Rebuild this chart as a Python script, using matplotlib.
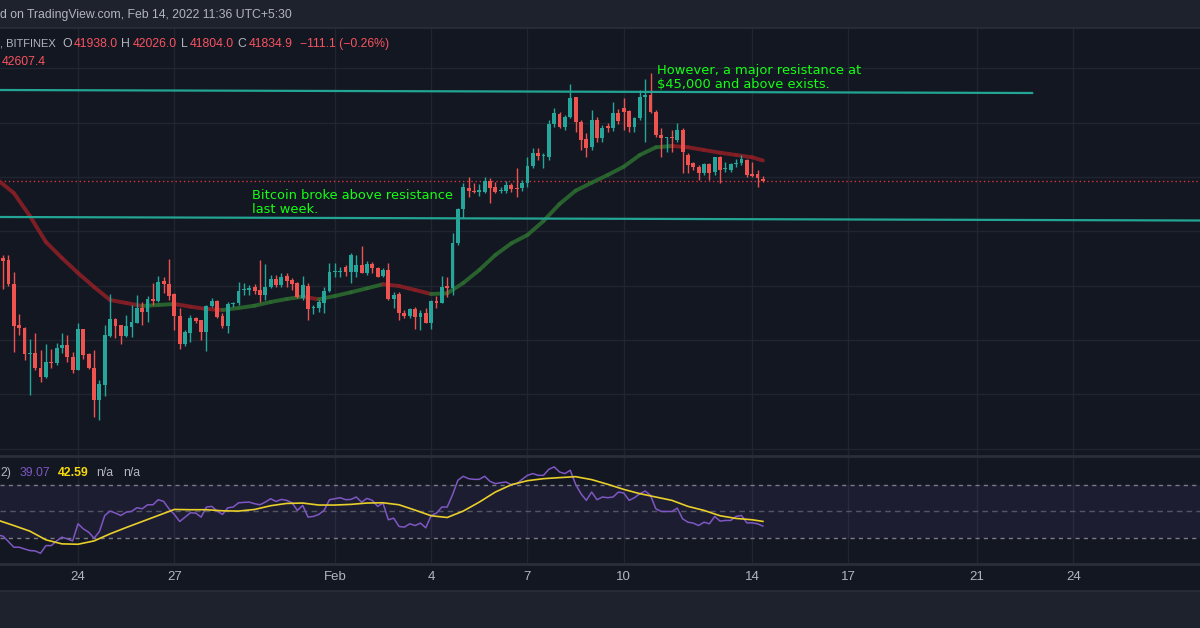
import numpy as np
import matplotlib
matplotlib.use("Agg")
import matplotlib.pyplot as plt
from matplotlib.collections import LineCollection
from matplotlib.patches import Rectangle
from matplotlib.transforms import blended_transform_factory

# BTCUSD Bitfinex, 4h candles (candle 16 = Jan 24 00:00)
opens = [39189, 39005, 38943, 38047, 36549, 36426, 35480, 35505, 34977, 34645, 35198, 35137,
         35689, 35812, 35382, 34891, 36389, 35480, 34977, 33786, 34338, 36143, 36770, 36549,
         36143, 36490, 36635, 37163, 37040, 37494, 37433, 38170, 38059, 37678, 36892, 35849,
         36266, 36794, 36733, 36303, 37249, 37445, 36880, 36512, 37310, 37347, 37838, 37838,
         37961, 37838, 37654, 37961, 38243, 38022, 38354, 38206, 38084, 37531, 37985, 37163,
         37163, 37347, 37813, 38489, 38513, 38673, 38513, 38489, 38759, 38452, 38784, 38636,
         38354, 38575, 37494, 37678, 37003, 36880, 37126, 36856, 37003, 36635, 37445, 37371,
         37984, 37900, 39556, 40809, 41582, 41496, 41435, 41460, 41865, 41619, 41496, 41496,
         41705, 41582, 41582, 41790, 42404, 42895, 42760, 42748, 43951, 44320, 43853, 44221,
         44934, 44037, 43386, 43100, 44099, 43423, 43878, 43792, 44344, 44529, 44443, 43854,
         44161, 44934, 45020, 44406, 43547, 43424, 43461, 43363, 43731, 42810, 42503, 42380,
         42135, 42479, 42196, 42749, 42282, 42258, 42479, 42528, 42626, 42110, 42110, 41938]
highs = [39250, 39127, 39127, 38513, 36954, 36463, 36033, 36266, 35628, 35849, 35652, 35870,
         36242, 36180, 35566, 36610, 36389, 35505, 35628, 34522, 36549, 37678, 36794, 36549,
         36917, 37285, 37654, 37408, 37617, 38084, 38354, 38329, 38980, 37715, 37163, 36350,
         36917, 36856, 36733, 37285, 37530, 37470, 36980, 37408, 37408, 38145, 38084, 38022,
         38050, 38943, 38796, 38400, 38391, 38452, 38477, 38268, 38145, 38354, 38084, 37285,
         37470, 37961, 38820, 38820, 38698, 38759, 39189, 39127, 39459, 38900, 38882, 38700,
         38650, 38820, 37777, 37777, 37101, 37163, 37224, 37101, 37163, 37470, 37617, 38354,
         38320, 39925, 40850, 41791, 41987, 41791, 41742, 42012, 41950, 41828, 41619, 41865,
         41791, 42319, 41889, 42748, 43055, 43055, 42870, 44099, 44528, 44400, 44283, 45425,
         44958, 44099, 43607, 44467, 44221, 43900, 44000, 44774, 44500, 44898, 44468, 44222,
         45205, 45600, 45818, 44468, 43792, 43485, 43731, 43977, 43792, 42871, 42565, 42442,
         42503, 42503, 42749, 42773, 42565, 42528, 42651, 42810, 42651, 42565, 42258, 42026]
lows = [38950, 37863, 38000, 35566, 36180, 35259, 33970, 34900, 34461, 34584, 34952, 35075,
        35505, 35198, 34768, 34891, 35284, 34915, 33172, 33049, 33933, 36119, 36057, 35849,
        36119, 36094, 36610, 36549, 36671, 37285, 37408, 37715, 37470, 36364, 35652, 35760,
        35935, 36610, 35996, 35603, 37220, 36794, 36426, 36266, 37220, 37285, 37654, 37654,
        37700, 37408, 37470, 37900, 37961, 37961, 37961, 37838, 37531, 37470, 36733, 36954,
        37040, 36978, 37777, 38329, 38305, 38354, 38084, 38329, 38452, 38400, 38452, 38300,
        38300, 37470, 37163, 36733, 36794, 36800, 36389, 36364, 36610, 36389, 37163, 37347,
        37590, 37650, 39495, 40477, 41275, 41398, 41300, 41398, 41030, 41398, 41398, 41398,
        41460, 41250, 41496, 41650, 42318, 42625, 42318, 42625, 43853, 43792, 43730, 44160,
        43669, 42993, 42748, 43000, 43300, 43300, 43669, 43700, 43950, 43731, 43670, 43670,
        44100, 43301, 44350, 43485, 42749, 42933, 42933, 43301, 42135, 42135, 42258, 41889,
        42073, 41889, 42073, 41791, 42196, 42200, 42356, 42442, 42012, 41987, 41619, 41804]
closes = [39005, 38919, 38047, 36512, 36426, 35480, 35529, 34952, 34645, 35198, 35137, 35714,
          35812, 35382, 34891, 36389, 35443, 34952, 33786, 34375, 36180, 36770, 36512, 36143,
          36512, 36671, 37163, 37040, 37494, 37445, 38145, 38047, 37617, 36880, 35849, 36303,
          36794, 36696, 36303, 37249, 37433, 36856, 36512, 37310, 37347, 37813, 37863, 37900,
          37813, 37654, 37961, 38243, 38022, 38329, 38182, 38047, 37592, 38035, 37126, 37224,
          37408, 37813, 38489, 38550, 38550, 38513, 39127, 38759, 38452, 38796, 38636, 38329,
          38575, 37494, 37654, 36978, 36880, 37126, 36856, 37003, 36635, 37433, 37371, 37961,
          37900, 39556, 40809, 41619, 41496, 41435, 41521, 41865, 41582, 41460, 41521, 41705,
          41545, 41558, 41791, 42420, 42895, 42772, 42790, 43951, 44344, 43853, 44221, 44897,
          44037, 43362, 43055, 44099, 43423, 43792, 43792, 44344, 44050, 44406, 43854, 44161,
          44934, 45020, 44406, 43547, 43424, 43461, 43424, 43731, 42933, 42442, 42356, 42135,
          42479, 42159, 42724, 42258, 42319, 42479, 42528, 42651, 42073, 42036, 41950, 41834.9]

# moving average read every 3rd candle (last = 42607.4)
ma_values = [41890, 41411, 40564, 39606, 39017, 38464, 37949, 37470, 37360, 37249, 37286, 37323,
             37225, 37138, 37102, 37175, 37260, 37396, 37507, 37592, 37496, 37617, 37754, 37901,
             38048, 37986, 37838, 37691, 37717, 38096, 38575, 39127, 39558, 39864, 40379, 41006,
             41496, 41790, 42074, 42380, 42810, 43094, 43142, 43094, 42994, 42895, 42810, 42725,
             42607.4]

# RSI per candle, and its smoothing line every 3rd candle
rsi = [32.5, 31.5, 27.5, 23.3, 23.3, 22, 20.8, 20.5, 18.8, 24.5, 24.5, 28, 30.8, 29.5, 28, 40.8,
       37, 34.5, 30, 35, 47, 50.3, 48.8, 47, 49.5, 50, 52.8, 52, 55, 55, 58.8, 57.5,
       52, 47.8, 42.5, 45.8, 49, 48.8, 45.8, 53.3, 53.8, 50.3, 47.8, 52.8, 53.3, 56.5, 56.8, 57,
       55.8, 55, 57, 59.5, 57.5, 59, 58.3, 56.5, 50.8, 54.5, 45.8, 46.3, 47.8, 50.8, 58.8, 59.5,
       60.3, 58.8, 59, 60.8, 57, 59.8, 58.3, 53.8, 56.3, 43.8, 45, 38.8, 38.3, 40.8, 39.5, 41.3,
       37.8, 47, 48.8, 53.3, 53.3, 62.5, 73.3, 76.3, 74.5, 74, 74, 76.3, 72.5, 70.8, 71.5, 72,
       70, 70.8, 74, 77, 78.3, 77, 77, 81.5, 83.3, 79.5, 78.3, 80.8, 70.3, 63.3, 58.3, 64.5,
       58.8, 60.8, 60.3, 60.8, 64.5, 63.8, 58.3, 60.3, 63.3, 65.3, 62, 52, 50, 50, 50, 52.5,
       44.5, 42, 41.3, 39.5, 42, 40.8, 46.3, 42.8, 43.3, 43.3, 46.3, 47, 41.5, 41.5, 40.8, 39.07]
rsi_ma = [43.5, 39.5, 35.3, 28.8, 25.8, 25.5, 28, 33.3, 38, 42.5, 47, 51.5, 51.3, 51.3, 50.5, 50.3,
          51.5, 54.3, 56, 56.3, 54.8, 54.8, 55.3, 56.3, 56.5, 55, 51, 46.8, 45.5, 50.3, 57, 64.5,
          70, 73, 74.5, 75.3, 76, 73.8, 70.3, 66.5, 63.3, 60.8, 58.3, 53.8, 50.8, 46.8, 44.8, 43.8,
          42.59]

# drawn trend lines (day, price)
upper_line_x = [-2.43, 29.72]
upper_line_y = [45204, 45094]
lower_line_x = [-2.43, 34.95]
lower_line_y = [40527, 40398]

tick_days = [0, 3, 8, 11, 14, 17, 21, 24, 28, 31]
tick_labels = ["24", "27", "Feb", "4", "7", "10", "14", "17", "21", "24"]

BG = "#131722"
PANEL = "#1e222d"
GRID = "#21252f"
TXT = "#b2b5be"
UP = "#26a69a"
DOWN = "#ef5350"

n = len(closes)
t = (np.arange(1, n + 1) - 16) / 6.0
ma_t = np.append(t[0:n:3], t[-1])

fig = plt.figure(figsize=(12, 6.28), dpi=100, facecolor=BG)
H = 628.0
ax = fig.add_axes([0, (H - 455) / H, 1, (455 - 28) / H])
rax = fig.add_axes([0, (H - 563) / H, 1, (563 - 457) / H])
xlim = (-2.43, 34.95)

for a in (ax, rax):
    a.set_facecolor(BG)
    a.set_xlim(*xlim)
    for s in a.spines.values():
        s.set_visible(False)
    a.set_xticks([])
    a.set_yticks([])
    for d in tick_days:
        a.axvline(d, color=GRID, lw=1, zorder=0)

ax.set_ylim(31761, 47488)
for p in range(32000, 47000, 2000):
    ax.axhline(p, color=GRID, lw=1, zorder=0)

# candles
o = np.array(opens); c = np.array(closes); hi = np.array(highs); lo = np.array(lows)
cols = np.where(c >= o, UP, DOWN)
ax.vlines(t, lo, hi, colors=cols, lw=1, zorder=3)
body = np.maximum(np.abs(c - o), 35)
ax.bar(t, body, bottom=np.minimum(o, c), width=0.12, color=cols, zorder=4, linewidth=0)

# moving average, coloured by direction
pts = np.column_stack([ma_t, ma_values])
segs = np.stack([pts[:-1], pts[1:]], axis=1)
seg_cols = ["#2b6a2f" if b >= a else "#8a1f26" for a, b in zip(ma_values[:-1], ma_values[1:])]
ax.add_collection(LineCollection(segs, colors=seg_cols, linewidths=2.8, capstyle="round",
                                 joinstyle="round", alpha=0.9, zorder=2))

ax.plot(upper_line_x, upper_line_y, color="#22a594", lw=1.6, zorder=5)
ax.plot(lower_line_x, lower_line_y, color="#22a594", lw=1.6, zorder=5)
ax.axhline(closes[-1], color="#d8343e", lw=1, ls=(0, (1, 2)), zorder=1)

green_txt = "#14ff14"
ax.text(-2.43 + 252 / 32.1, 40560, "Bitcoin broke above resistance\nlast week.", color=green_txt,
        fontsize=9.4, family="DejaVu Sans", va="bottom", ha="left", linespacing=1.12, zorder=6)
ax.text(-2.43 + 657 / 32.1, 45150, "However, a major resistance at\n$45,000 and above exists.",
        color=green_txt, fontsize=9.4, family="DejaVu Sans", va="bottom", ha="left",
        linespacing=1.12, zorder=6)

# RSI panel
rax.set_ylim(11.5, 90.7)
rax.axhspan(30, 70, color="#7e57c2", alpha=0.1, lw=0)
rax.axhline(70, color="#787b86", lw=1, ls=(0, (3, 3)))
rax.axhline(30, color="#787b86", lw=1, ls=(0, (3, 3)))
rax.axhline(50, color="#787b86", lw=1, ls=(0, (4, 3)), alpha=0.6)
rax.plot(t, rsi, color="#7e57c2", lw=1.1, zorder=3)
rax.plot(ma_t, rsi_ma, color="#e8cf2a", lw=1.2, zorder=4)

# frame pieces
def fy(y):
    return 1 - y / H

fig.patches.append(Rectangle((0, fy(27)), 1, 27 / H, transform=fig.transFigure, color=PANEL, zorder=-1))
fig.patches.append(Rectangle((0, 0), 1, fy(591), transform=fig.transFigure, color=PANEL, zorder=-1))
for y, lw in ((27.5, 1.2), (456, 2.0), (563.5, 2.0), (591, 1.2)):
    fig.add_artist(plt.Line2D([0, 1], [fy(y), fy(y)], color="#2a2e39", lw=lw, transform=fig.transFigure))

trans = blended_transform_factory(rax.transData, fig.transFigure)
for d, lab in zip(tick_days, tick_labels):
    fig.text(d, fy(577), lab, transform=trans, color=TXT, fontsize=9.5, ha="center", va="center",
             family="Liberation Sans")

def ftext(x, y, s, color, size=8.8, **kw):
    fig.text(x / 1200, fy(y), s, color=color, fontsize=size, va="center", ha="left",
             family="Liberation Sans", **kw)

ftext(0, 15, "d on TradingView.com, Feb 14, 2022 11:36 UTC+5:30", TXT)
red = "#f7525f"
ftext(0, 44, ", BITFINEX", TXT, size=8.0)
ftext(62, 44, "O", TXT); ftext(74, 44, "41938.0", red)
ftext(121, 44, "H", TXT); ftext(133, 44, "42026.0", red)
ftext(181, 44, "L", TXT); ftext(190, 44, "41804.0", red)
ftext(237, 44, "C", TXT); ftext(249, 44, "41834.9", red)
ftext(300, 44, "\u2212111.1 (\u22120.26%)", red)
ftext(2, 62, "42607.4", red)

ftext(0, 473, "2)", TXT)
ftext(20, 473, "39.07", "#7e57c2")
ftext(58, 473, "42.59", "#f5d90a", weight="bold")
ftext(96, 473, "n/a", TXT)
ftext(123, 473, "n/a", TXT)

fig.savefig("out.png", dpi=100, facecolor=BG)
